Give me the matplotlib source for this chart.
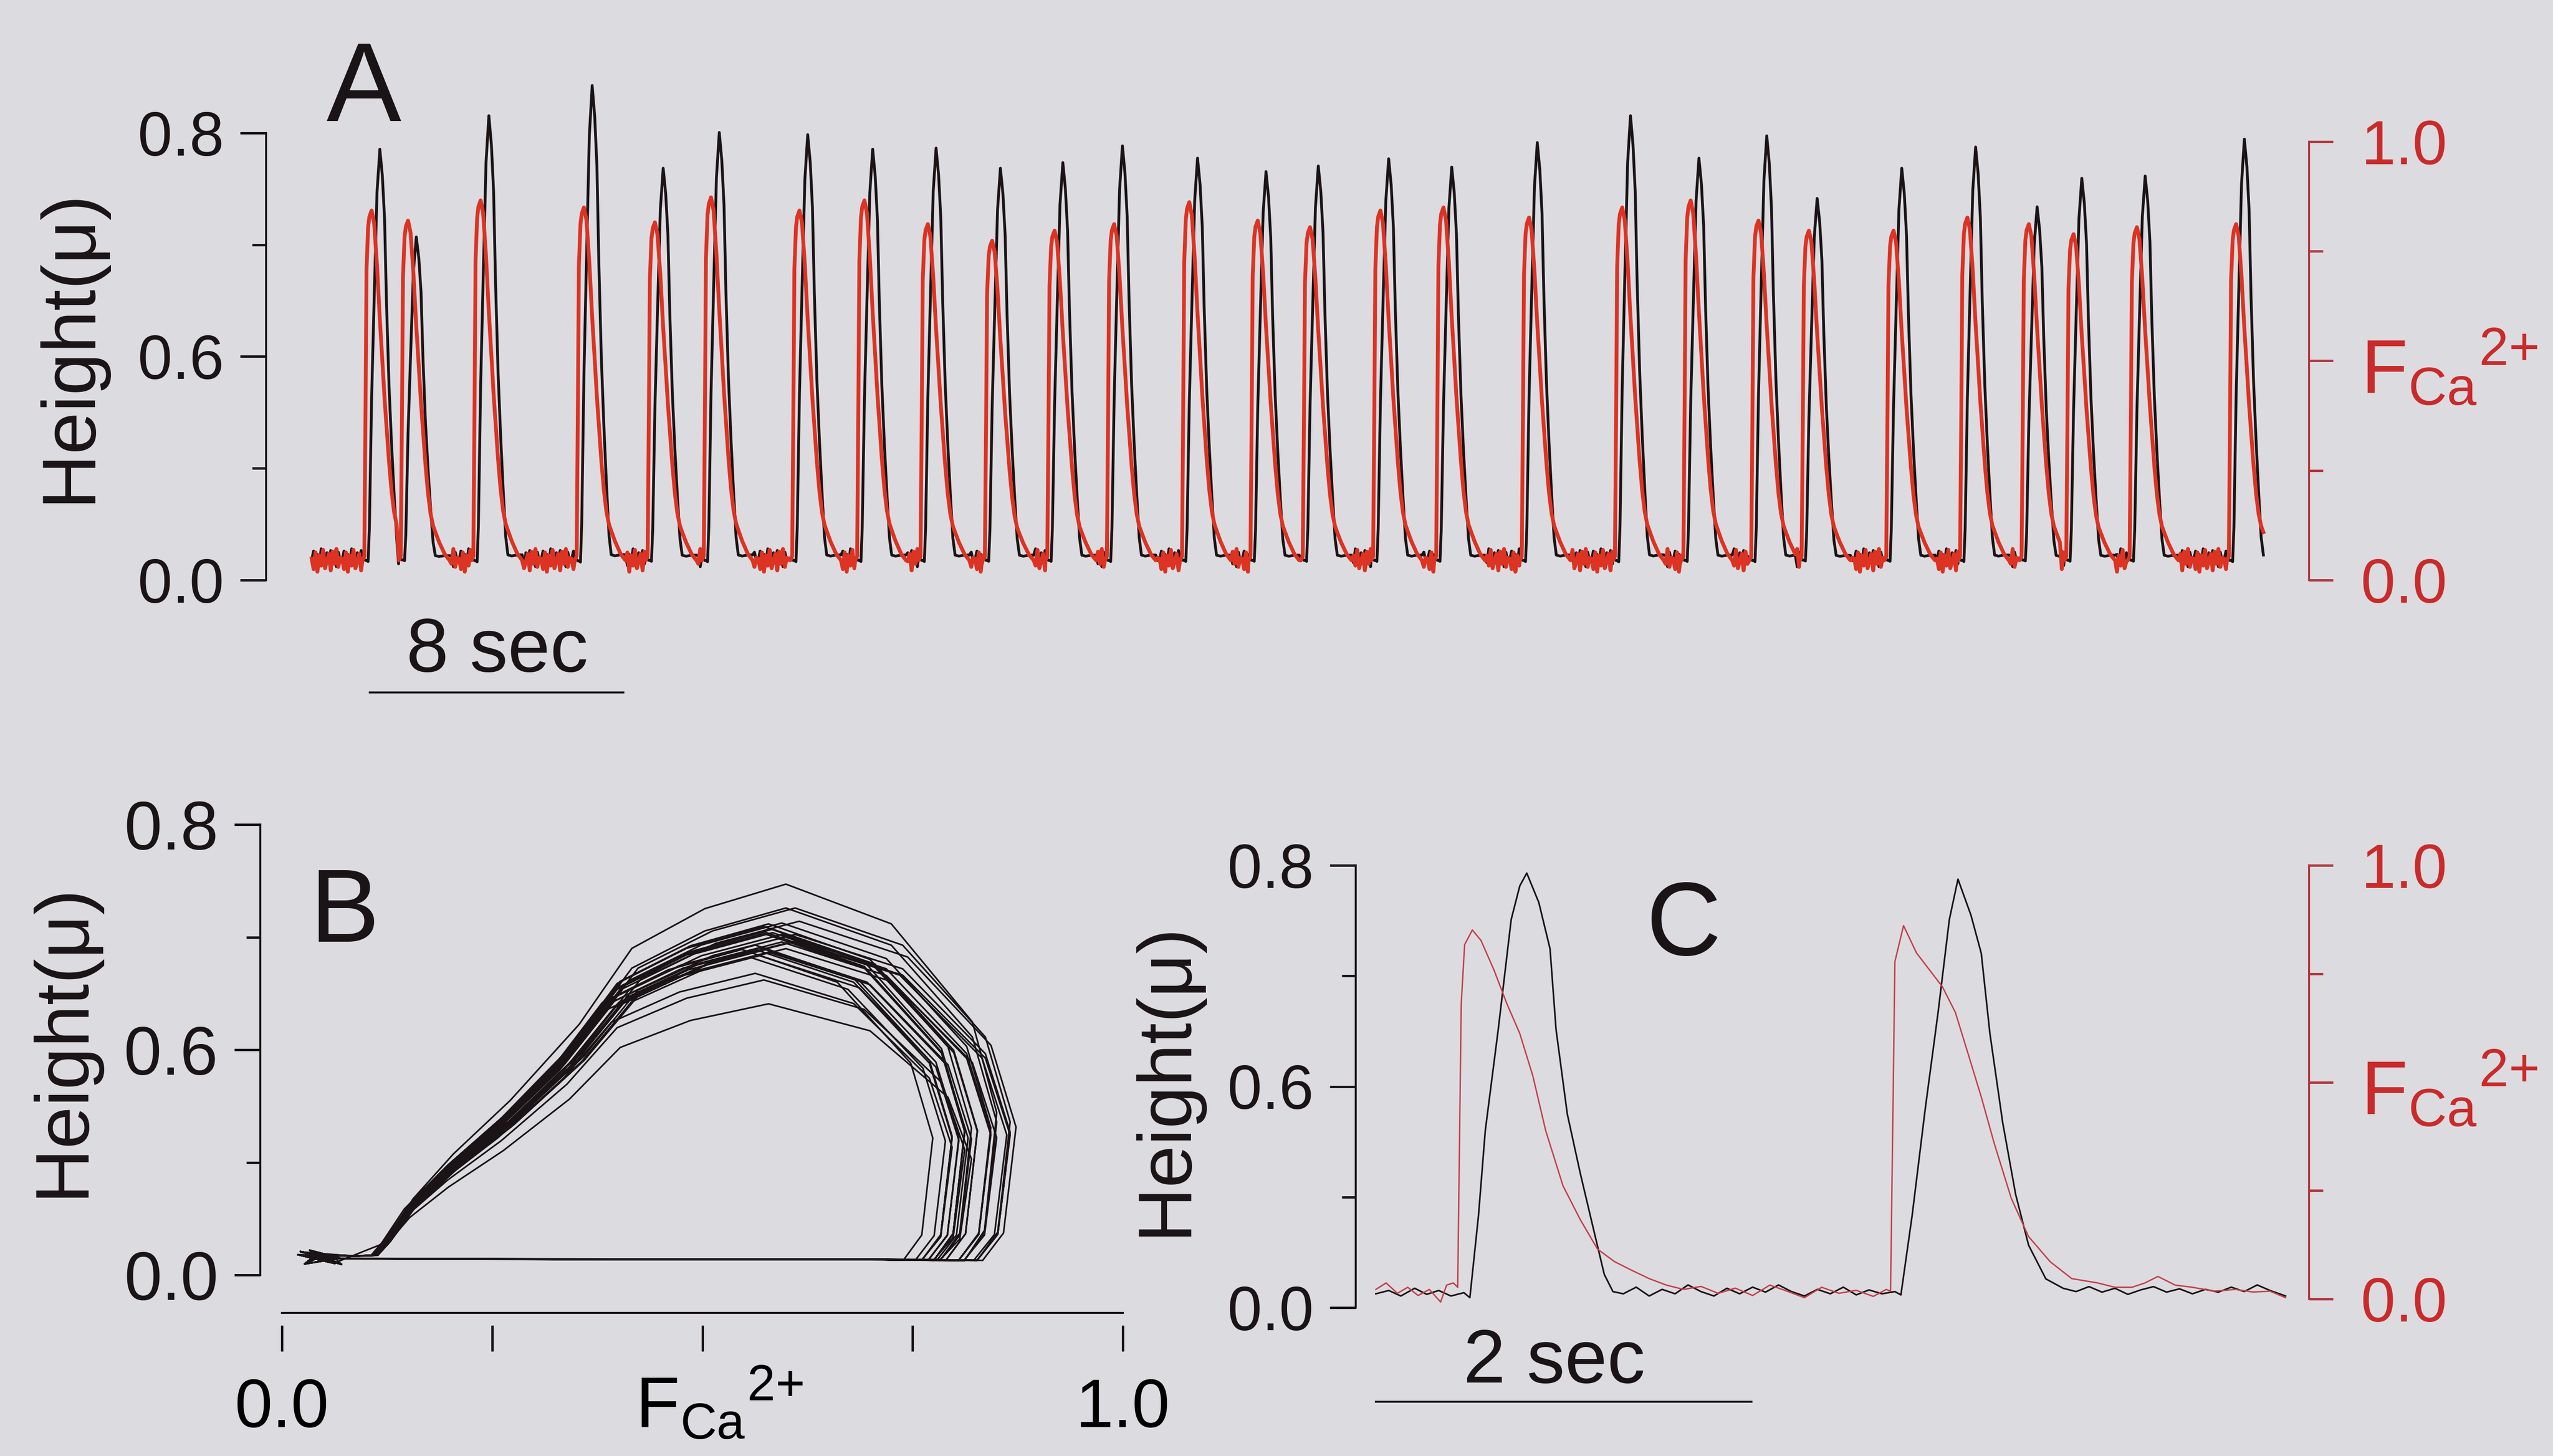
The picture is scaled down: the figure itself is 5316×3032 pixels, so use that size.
import numpy as np
import matplotlib
matplotlib.use("Agg")
import matplotlib.pyplot as plt
from matplotlib.transforms import blended_transform_factory

plt.rcParams['font.family'] = ['Liberation Sans', 'DejaVu Sans']
plt.rcParams['mathtext.fontset'] = 'custom'
plt.rcParams['mathtext.rm'] = 'Liberation Sans'
plt.rcParams['mathtext.it'] = 'Liberation Sans:italic'
plt.rcParams['mathtext.default'] = 'regular'

BG = '#dcdce0'
BLK = '#1a1416'
RED_TXT = '#c92b2b'
RED_AX = '#b2383e'
RED_A = '#dc3323'
RED_C = '#c2414b'

# ---------------- panel A: long run of twitches ----------------
# time of each height peak (s), peak height (um) and peak Ca fluorescence
peak_t = [2.15, 3.30, 5.59, 8.85, 11.09, 12.86, 15.65, 17.70, 19.70, 21.73,
          23.70, 25.58, 27.95, 30.11, 31.76, 33.98, 35.97, 38.67, 41.61, 43.77,
          45.91, 47.50, 50.17, 52.50, 54.44, 55.85, 57.85, 60.98]
peak_h = [0.771, 0.614, 0.831, 0.885, 0.737, 0.801, 0.797, 0.771, 0.773, 0.737,
          0.747, 0.777, 0.755, 0.731, 0.741, 0.754, 0.739, 0.783, 0.831, 0.755,
          0.795, 0.683, 0.737, 0.775, 0.668, 0.719, 0.723, 0.789]
peak_f = [0.843, 0.820, 0.866, 0.850, 0.816, 0.873, 0.843, 0.866, 0.812, 0.774,
          0.797, 0.812, 0.862, 0.820, 0.805, 0.843, 0.850, 0.827, 0.850, 0.866,
          0.820, 0.797, 0.797, 0.827, 0.812, 0.789, 0.805, 0.812]
a_t_end = 61.64
a_base_h = 0.040
a_base_f = 0.045

shape_dt = [-0.55, -0.49, -0.45, -0.42, -0.37, -0.33, -0.26, -0.18, -0.09, 0.0, 0.08,
            0.15, 0.21, 0.29, 0.37, 0.45, 0.53, 0.60, 0.72, 0.90, 1.05]
shape_h = [0.025, 0.022, 0.020, 0.020, 0.018, 0.080, 0.320, 0.505, 0.705, 0.786, 0.736,
           0.655, 0.500, 0.345, 0.236, 0.144, 0.062, 0.030, 0.028, 0.030, 0.030]
shape_f = [0.025, 0.035, 0.400, 0.720, 0.820, 0.845, 0.860, 0.830, 0.730, 0.600, 0.500,
           0.410, 0.345, 0.260, 0.190, 0.140, 0.110, 0.095, 0.070, 0.040, 0.025]

# resting wobble
ripple_h = [-0.004, 0.012, -0.014, 0.006, -0.009, 0.016, -0.002, -0.015, 0.009,
            -0.007, 0.013, -0.011, 0.003, -0.016, 0.010, -0.005]
ripple_f = [0.004, -0.020, 0.018, -0.026, 0.011, -0.012, 0.024, -0.018, -0.002,
            0.015, -0.023, 0.020, -0.008, 0.026, -0.015, 0.006]
ripple_step = 0.06

# ---------------- panel C: two twitches on a fast time base ----------------
c_t_h = [0.000, 0.069, 0.133, 0.207, 0.271, 0.335, 0.400, 0.469, 0.501, 0.547, 0.583,
         0.652, 0.721, 0.767, 0.804, 0.868, 0.928, 0.960, 1.020, 1.089, 1.158, 1.217,
         1.263, 1.318, 1.387, 1.456, 1.525, 1.594, 1.663, 1.732, 1.801, 1.870, 1.938,
         2.007, 2.076, 2.145, 2.214, 2.283, 2.352, 2.421, 2.490, 2.559, 2.627, 2.696,
         2.765, 2.797, 2.857, 2.926, 2.995, 3.055, 3.101, 3.170, 3.225, 3.271, 3.339,
         3.408, 3.477, 3.569, 3.661, 3.730, 3.799, 3.868, 3.937, 4.006, 4.074, 4.143,
         4.212, 4.281, 4.350, 4.419, 4.488, 4.557, 4.626, 4.695, 4.763, 4.846]
c_h = [0.025, 0.031, 0.021, 0.035, 0.024, 0.031, 0.021, 0.027, 0.018, 0.167, 0.320,
       0.503, 0.702, 0.763, 0.786, 0.733, 0.649, 0.503, 0.350, 0.243, 0.144, 0.060,
       0.029, 0.025, 0.037, 0.021, 0.033, 0.025, 0.041, 0.029, 0.021, 0.035, 0.025,
       0.037, 0.028, 0.041, 0.029, 0.021, 0.033, 0.025, 0.037, 0.023, 0.032, 0.025,
       0.029, 0.023, 0.167, 0.358, 0.534, 0.702, 0.775, 0.710, 0.641, 0.496, 0.335,
       0.205, 0.113, 0.052, 0.035, 0.029, 0.038, 0.028, 0.035, 0.024, 0.032, 0.038,
       0.028, 0.034, 0.025, 0.033, 0.028, 0.037, 0.029, 0.041, 0.031, 0.021]
c_t_f = [0.000, 0.055, 0.115, 0.170, 0.225, 0.285, 0.345, 0.377, 0.413, 0.436, 0.455,
         0.473, 0.514, 0.560, 0.629, 0.698, 0.767, 0.836, 0.905, 0.997, 1.089, 1.181,
         1.272, 1.364, 1.456, 1.548, 1.640, 1.732, 1.824, 1.915, 2.007, 2.099, 2.191,
         2.283, 2.375, 2.467, 2.559, 2.650, 2.719, 2.742, 2.765, 2.811, 2.880, 2.949,
         3.018, 3.087, 3.156, 3.225, 3.294, 3.385, 3.477, 3.592, 3.707, 3.845, 3.937,
         4.028, 4.097, 4.166, 4.258, 4.350, 4.465, 4.580, 4.672, 4.763, 4.846]
c_f = [0.022, 0.037, 0.013, 0.027, 0.008, 0.022, -0.007, 0.032, 0.037, 0.027, 0.681,
       0.817, 0.851, 0.827, 0.759, 0.681, 0.612, 0.515, 0.388, 0.261, 0.183, 0.115,
       0.086, 0.066, 0.047, 0.032, 0.022, 0.029, 0.013, 0.025, 0.008, 0.032, 0.018,
       0.003, 0.027, 0.013, 0.020, 0.006, 0.022, 0.018, 0.778, 0.861, 0.798, 0.759,
       0.720, 0.661, 0.564, 0.466, 0.359, 0.232, 0.144, 0.086, 0.047, 0.037, 0.027,
       0.027, 0.037, 0.052, 0.032, 0.027, 0.018, 0.022, 0.016, 0.018, 0.003]

F_LABEL = r'F$_{Ca}$$^{2{+}}$'


def build_run():
    sdt = np.array(shape_dt)
    sh = np.array(shape_h)
    sf = np.array(shape_f)
    nh = (sh - sh[0]) / (sh.max() - sh[0])
    nf = (sf - sf[0]) / (sf.max() - sf[0])
    starts = [tp + sdt[0] for tp in peak_t] + [a_t_end]
    ts, hs, fs = [], [], []
    k = 0

    def rest(t0, t1):
        nonlocal k
        for t in np.arange(t0, t1, ripple_step):
            ts.append(t)
            hs.append(a_base_h + ripple_h[k % len(ripple_h)])
            fs.append(a_base_f + ripple_f[k % len(ripple_f)])
            k += 1

    rest(0.0, starts[0])
    for i, tp in enumerate(peak_t):
        tt = tp + sdt
        keep = tt < starts[i + 1]
        ts.extend(tt[keep])
        hs.extend((a_base_h + nh * (peak_h[i] - a_base_h))[keep])
        fs.extend((a_base_f + nf * (peak_f[i] - a_base_f))[keep])
        rest(tt[keep][-1] + ripple_step, starts[i + 1])
    ts = np.array(ts)
    keep = ts <= a_t_end
    return ts[keep], np.array(hs)[keep], np.array(fs)[keep]


run_t, run_h, run_f = build_run()

W, H = 5316, 3032
fig = plt.figure(figsize=(W / 300, H / 300), dpi=300, facecolor=BG)


def box(l, t, r, b):
    return [l / W, 1 - b / H, (r - l) / W, (b - t) / H]


def left_axis(ax, top, labels, size):
    for s in ('top', 'right', 'bottom'):
        ax.spines[s].set_visible(False)
    ax.spines['left'].set_linewidth(1.0)
    ax.spines['left'].set_color(BLK)
    ax.spines['left'].set_bounds(0, top)
    ax.set_yticks([0, top / 2, top], labels=labels)
    ax.set_yticks([top / 4, 3 * top / 4], minor=True)
    ax.tick_params(axis='y', which='major', length=13, width=1.2, pad=8,
                   labelsize=size, colors=BLK)
    ax.tick_params(axis='y', which='minor', length=7, width=1.2, colors=BLK)
    ax.set_xticks([])
    ax.set_facecolor('none')


def right_axis(ax2):
    for s in ('top', 'left', 'bottom'):
        ax2.spines[s].set_visible(False)
    ax2.spines['right'].set_color(RED_AX)
    ax2.spines['right'].set_linewidth(1.0)
    ax2.spines['right'].set_bounds(0, 1)
    ax2.set_yticks([0, 0.5, 1.0], labels=['0.0', F_LABEL, '1.0'])
    ax2.set_yticks([0.25, 0.75], minor=True)
    ax2.tick_params(axis='y', which='major', length=12, width=1.2, pad=14,
                    labelsize=31, color=RED_AX, labelcolor=RED_TXT)
    ax2.tick_params(axis='y', which='minor', length=7, width=1.2, color=RED_AX)
    for lab in ax2.get_yticklabels():
        if lab.get_text() == F_LABEL:
            lab.set_fontsize(38)


# ---- A ----
ax_a = fig.add_axes(box(554, 277, 4808, 1208))
ax_a.plot(run_t, run_h, color=BLK, lw=1.4, clip_on=False)
ax_a.set_xlim(-1.44, 63.02)
ax_a.set_ylim(0, 0.8)
left_axis(ax_a, 0.8, ['0.0', '0.6', '0.8'], 31)
ax_a2 = ax_a.twinx()
ax_a2.plot(run_t, run_f, color=RED_A, lw=1.9, clip_on=False)
ax_a2.set_ylim(0, 1.0197)
right_axis(ax_a2)
bar_a_t0, bar_a_len = 1.83, 8.0
ax_a.plot([bar_a_t0, bar_a_t0 + bar_a_len], [-0.201, -0.201], color=BLK, lw=1.0,
          clip_on=False)
ax_a.text(5.85, -0.163, '8 sec', ha='center', va='baseline', fontsize=38, color=BLK)

# ---- B ----
ax_b = fig.add_axes(box(542, 1717, 2338, 2655))
ax_b.plot(run_f, run_h, color=BLK, lw=0.8)
ax_b.set_xlim(-0.0257, 1.0)
ax_b.set_ylim(0, 1.02)
left_axis(ax_b, 1.02, ['0.0', '0.6', '0.8'], 34)
ax_b.spines['bottom'].set_visible(True)
ax_b.spines['bottom'].set_color(BLK)
ax_b.spines['bottom'].set_linewidth(1.0)
ax_b.spines['bottom'].set_position(('axes', -0.084))
ax_b.spines['bottom'].set_bounds(0, 1)
sec = ax_b.secondary_xaxis(-0.112)
sec.spines['bottom'].set_visible(False)
sec.set_xticks([0, 0.25, 0.5, 0.75, 1.0])
sec.tick_params(axis='x', length=13, width=1.2, labelbottom=False, colors=BLK)
trb = blended_transform_factory(ax_b.transData, ax_b.transAxes)
ax_b.text(0.0, -0.338, '0.0', transform=trb, ha='center', va='baseline', fontsize=34)
ax_b.text(1.0, -0.338, '1.0', transform=trb, ha='center', va='baseline', fontsize=34)
ax_b.text(0.52, -0.338, F_LABEL, transform=trb, ha='center', va='baseline', fontsize=36)

# ---- C ----
ax_c = fig.add_axes(box(2823, 1802, 4808, 2723))
ax_c.plot(c_t_h, c_h, color=BLK, lw=0.8)
ax_c.set_xlim(-0.107, 4.971)
ax_c.set_ylim(0, 0.8)
left_axis(ax_c, 0.8, ['0.0', '0.6', '0.8'], 31)
ax_c2 = ax_c.twinx()
ax_c2.plot(c_t_f, c_f, color=RED_C, lw=0.7)
ax_c2.set_ylim(-0.0199, 1.0)
right_axis(ax_c2)
bar_c_t0, bar_c_len = 0.0, 2.0
ax_c.plot([bar_c_t0, bar_c_t0 + bar_c_len], [-0.170, -0.170], color=BLK, lw=1.0,
          clip_on=False)
ax_c.text(0.95, -0.1355, '2 sec', ha='center', va='baseline', fontsize=38, color=BLK)

# panel letters and y labels
fig.text(757 / W, 1 - 252 / H, 'A', ha='center', va='baseline', fontsize=56, color=BLK)
fig.text(717 / W, 1 - 1961 / H, 'B', ha='center', va='baseline', fontsize=52, color=BLK)
fig.text(3506 / W, 1 - 1989 / H, 'C', ha='center', va='baseline', fontsize=52, color=BLK)
for x, y in [(145, 720), (132, 2166), (2428, 2247)]:
    fig.text(x / W, 1 - y / H, 'Height(μ)', rotation=90, ha='center', va='center',
             fontsize=38, color=BLK)

fig.savefig('out.png', dpi=300, facecolor=BG)
